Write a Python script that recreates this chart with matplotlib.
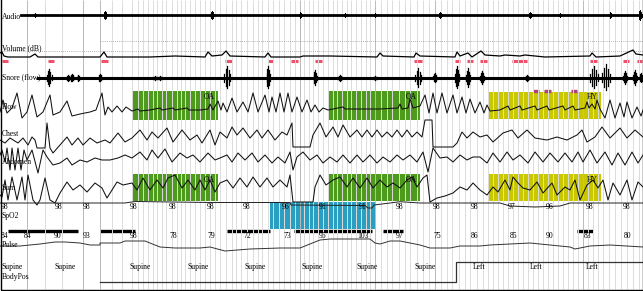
import matplotlib.pyplot as plt
from matplotlib.patches import Rectangle

# ---- recorded channels (x = time index across the page, y = trace level) ----
flow_x = [0, 3, 7, 12, 17, 22, 27, 32, 37, 43, 50, 53, 60, 67, 72, 80, 90, 96, 102, 105, 108, 112, 117, 122, 126, 132,
          138, 140, 150, 160, 162, 173, 175, 187, 189, 200, 208, 210, 213, 218,
          221, 223, 227, 232, 237, 243, 248, 253, 258, 265, 269, 272, 276, 280, 284, 288, 292, 297, 302, 307, 311, 315, 319, 323, 328,
          343, 345, 360, 380, 398, 400, 402, 408, 410, 413, 420,
          425, 429, 433, 437, 442, 447, 453, 457, 462, 466, 470, 475, 480, 484, 487, 490,
          500, 508, 510, 520, 522, 535, 537, 547, 549, 563, 565, 573, 575, 585, 587, 589, 592, 595, 597, 600,
          605, 610, 615, 620, 624, 627, 632, 637, 641, 643]
flow_y = [112, 100, 113, 108, 93, 118, 112, 95, 117, 112, 95, 115, 112, 101, 116, 114, 112, 110, 93, 115, 107, 112, 106, 112, 107, 111,
          109, 111, 110, 108, 110, 108, 110, 108, 110, 110, 109, 104, 110, 101,
          110, 103, 112, 98, 112, 102, 112, 93, 112, 95, 112, 97, 112, 93, 112, 93, 112, 97, 112, 100, 112, 105, 112, 108, 110,
          107, 109, 109, 109, 108, 104, 109, 108, 99, 108, 106,
          95, 113, 93, 113, 93, 113, 95, 113, 97, 113, 99, 113, 102, 113, 105, 111,
          110, 106, 110, 106, 110, 106, 110, 106, 110, 106, 110, 106, 110, 108, 102, 108, 104, 109, 100, 109,
          118, 100, 118, 103, 117, 102, 118, 107, 116, 110]

chest_x = [0, 5, 10, 18, 23, 28, 32, 35, 37, 45, 47, 50, 53, 60, 67, 72, 78, 83, 90, 97, 105, 110, 118, 125, 132, 140, 147,
           152, 158, 167, 173, 182, 190, 197, 202, 210, 215, 220, 227, 232, 237, 243, 250, 257, 262, 268, 275, 282, 287,
           292, 293, 310, 313, 320, 326, 333, 338, 343, 350, 357, 362, 367, 372, 377, 382, 387, 392, 397, 402, 407, 412,
           417, 422, 425, 432, 433, 453, 457, 462, 467, 473, 480, 487, 493, 503, 512, 518, 527, 535, 547, 557, 567, 577,
           582, 587, 595, 602, 610, 620, 627, 635, 643]
chest_y = [140, 143, 138, 143, 138, 145, 137, 140, 148, 148, 123, 148, 153, 145, 137, 145, 138, 145, 138, 143, 140, 143, 133,
           142, 138, 130, 140, 132, 138, 128, 142, 130, 140, 135, 143, 130, 145, 132, 138, 127, 135, 128, 138, 130, 138,
           130, 140, 132, 135, 123, 147, 147, 135, 123, 137, 127, 137, 125, 137, 130, 137, 130, 137, 130, 137, 132, 137,
           130, 137, 130, 137, 132, 137, 120, 120, 147, 147, 143, 132, 138, 132, 137, 135, 142, 133, 130, 138, 130, 138,
           140, 137, 140, 135, 130, 142, 137, 127, 138, 128, 138, 130, 137]

abdomen_x = [0, 2, 5, 7, 10, 12, 15, 18, 21, 24, 27, 32, 38, 43, 47, 53, 60, 67, 72, 80, 87, 95, 102, 110, 118, 125, 132,
             140, 147, 152, 158, 165, 172, 180, 187, 193, 200, 208, 215, 220, 227, 232, 238, 245, 252, 258, 265, 272, 278,
             285, 290, 293, 297, 303, 310, 317, 323, 330, 337, 343, 350, 357, 363, 370, 377, 383, 390, 397, 403, 410, 417,
             423, 428, 433, 440, 447, 453, 460, 467, 473, 480, 487, 493, 500, 507, 513, 520, 528, 535, 543, 550, 558, 565,
             572, 578, 583, 590, 597, 605, 612, 618, 625, 632, 638, 643]
abdomen_y = [155, 150, 162, 148, 170, 148, 170, 148, 170, 150, 160, 150, 173, 150, 157, 165, 163, 158, 165, 160, 162, 158,
             160, 160, 158, 155, 158, 152, 160, 150, 158, 149, 162, 153, 158, 155, 162, 153, 160, 158, 155, 162, 153, 160,
             153, 162, 155, 163, 157, 163, 152, 170, 157, 152, 160, 155, 163, 157, 162, 155, 163, 155, 162, 155, 163, 157,
             162, 155, 160, 155, 162, 152, 172, 148, 158, 157, 162, 155, 160, 157, 157, 163, 153, 162, 152, 160, 155, 163,
             152, 162, 153, 162, 153, 162, 152, 162, 150, 163, 152, 165, 153, 165, 152, 163, 155]

sum_x = [0, 2, 5, 8, 12, 17, 22, 25, 28, 33, 37, 40, 45, 50, 55, 60, 67, 73, 80, 87, 95, 102, 107, 112, 117, 123, 132, 137,
         143, 150, 157, 163, 168, 175, 182, 188, 195, 200, 205, 210, 215, 220, 227, 233, 240, 247, 253, 260, 267, 273, 280,
         287, 290, 293, 313, 315, 320, 326, 333, 340, 347, 353, 360, 367, 373, 380, 387, 393, 400, 407, 412, 417, 423, 427,
         430, 437, 445, 453, 460, 467, 473, 480, 487, 493, 498, 505, 510, 513, 518, 523, 530, 537, 543, 552, 557, 565, 570,
         575, 580, 587, 593, 598, 603, 608, 613, 620, 627, 632, 638, 643]
sum_y = [195, 197, 180, 200, 177, 200, 177, 200, 175, 200, 205, 200, 178, 200, 203, 193, 182, 190, 185, 192, 183, 188, 198,
         190, 182, 185, 183, 190, 178, 190, 180, 188, 178, 175, 188, 180, 190, 180, 190, 180, 192, 183, 180, 188, 178, 187,
         177, 187, 178, 187, 180, 187, 175, 202, 202, 187, 175, 185, 180, 177, 187, 178, 188, 178, 188, 180, 187, 183, 188,
         180, 177, 187, 178, 175, 202, 198, 196, 193, 187, 190, 183, 190, 195, 187, 192, 180, 190, 177, 183, 188, 190, 182,
         193, 183, 195, 187, 190, 180, 200, 185, 180, 188, 180, 200, 183, 195, 180, 200, 182, 187]

volume_x = [0, 2, 4, 8, 30, 35, 38, 60, 100, 104, 107, 150, 175, 205, 208, 212, 222, 226, 230, 265, 268, 271, 300, 303,
            330, 377, 380, 383, 414, 416, 420, 455, 457, 460, 468, 472, 481, 485, 500, 505, 520, 525, 545, 590, 592, 596,
            620, 633, 636, 643]
volume_y = [53, 52, 56, 57, 57, 54, 57, 57, 57, 52, 57, 57, 56, 57, 52, 56, 55, 51, 56, 57, 53, 57, 57, 56, 56, 57, 53, 56,
            57, 53, 56, 57, 52, 56, 53, 57, 51, 55, 56, 55, 56, 55, 57, 56, 53, 57, 56, 50, 54, 55]

spo2_x = [0, 125, 135, 210, 290, 291, 365, 368, 372, 374, 390, 400, 420, 500, 510, 535, 560, 570, 643]
spo2_y = [203, 203, 201.5, 202.5, 202.5, 205, 205.5, 208, 208, 205, 203, 201.7, 203, 203, 206, 207, 206, 203, 203]

pulse_x = [0, 20, 40, 55, 65, 80, 90, 100, 100, 120, 125, 145, 160, 175, 200, 210, 225, 250, 280, 300, 310, 320, 330, 370,
           375, 380, 390, 400, 420, 430, 450, 460, 480, 490, 530, 540, 570, 575, 590, 610, 643]
pulse_y = [246, 246, 244, 242, 242, 243, 245, 245, 243, 243, 241, 241, 247, 248, 248, 247, 251, 249, 248, 248, 244, 240,
           239, 239, 243, 244, 241, 241, 245, 248, 248, 246, 246, 245, 243, 244, 247, 249, 246, 245, 247]

# audio / snore bursts: (position, half amplitude, half width)
audio_spikes = [(35, 2, 1), (105, 4, 1.5), (212, 4, 2), (300, 3, 1), (345, 2, 1), (375, 2, 1), (440, 3, 1.5),
                (530, 3, 1.5), (560, 2, 1), (610, 3, 1), (640, 5, 1.5)]
snore_bursts = [(49, 9, 2.5), (68, 3, 1.5), (72, 4, 1.5), (78, 3, 1), (100, 4, 1.5), (155, 2, 2), (160, 2, 2),
                (227, 12, 3), (268, 12, 1.5), (315, 8, 1.5), (340, 3, 2), (375, 2, 2), (418, 10, 3), (435, 5, 2),
                (457, 12, 2), (468, 10, 2), (482, 7, 2), (527, 3, 2), (594, 12, 4), (606, 14, 4), (625, 7, 2),
                (635, 8, 2), (641, 5, 1.5)]
burst_shape = [(-1.0, 0.35), (-0.5, 0.75), (0.0, 1.0), (0.5, 0.65), (1.0, 0.3)]

# scored events
oa_events = [(132, 218), (328, 420)]
hy_events = [(488, 601)]
desat_event = (270, 375)
desat_bars = [(8, 78), (100, 135), (227, 270), (294, 372), (383, 403), (577, 593)]
arousal_marks = [(2, 8), (48, 54), (101, 108), (225, 232), (268, 273), (291, 298), (315, 322), (414, 422), (455, 460),
                 (467, 473), (480, 487), (512, 527), (590, 597), (623, 629), (637, 642)]
limb_marks = [(533, 539), (544, 551), (571, 577)]

spo2_pos = [5, 59, 87, 134, 173, 211, 247, 286, 323, 363, 400, 437, 475, 512, 550, 590, 627]
spo2_lab = ['98', '98', '98', '98', '98', '98', '98', '96', '91', '91', '98', '98', '98', '97', '96', '98', '98']
pulse_pos = [1, 28, 58, 87, 134, 173, 211, 247, 287, 323, 363, 400, 437, 475, 513, 550, 588, 627]
pulse_lab = ['84', '84', '90', '93', '98', '78', '79', '72', '73', '95', '103', '97', '75', '86', '85', '90', '83', '80']
pos_centers = [12, 65, 140, 198, 255, 312, 367, 425, 479, 536, 592]
pos_labels = ['Supine'] * 8 + ['Left'] * 3
bodypos_x = [100, 456, 456, 643]
bodypos_y = [282, 282, 262, 262]

epoch_lines = [45, 62, 112, 122, 132, 138, 143, 148, 153, 157, 162, 166, 172, 177, 181, 185, 190, 195, 200, 205, 210, 215,
               220, 226, 232, 236, 241, 247, 253, 258, 262, 268, 273, 279, 284, 290, 295, 304, 309, 313, 318, 323, 328,
               333, 337, 342, 347, 351, 356, 361, 366, 370, 381, 387, 392, 399, 405, 410, 417, 423, 429, 441, 447, 452,
               459, 465, 470, 477, 483, 488, 493, 498, 503, 508, 513, 518, 523, 528, 533, 538, 543, 548, 553, 558, 563,
               568, 573, 578, 588, 593, 598, 603, 609, 615, 621, 627, 633, 639]
major_lines = [27, 83, 100, 300, 375, 435, 583]

plt.rcParams['font.family'] = ['Liberation Serif', 'DejaVu Serif']
fs = 5.5

fig = plt.figure(figsize=(6.43, 2.91), dpi=100, facecolor='w')
ax = fig.add_axes([0, 0, 1, 1])
ax.set_xlim(0, 643)
ax.set_ylim(291, 0)
ax.axis('off')

# event boxes
for a, b in oa_events:
    for top, bot in [(91, 120), (174, 201)]:
        ax.add_patch(Rectangle((a, top), b - a, bot - top, color='#4e9a1c', lw=0, zorder=1))
for a, b in hy_events:
    for top, bot in [(92, 119), (174, 201)]:
        ax.add_patch(Rectangle((a, top), b - a, bot - top, color='#c9c800', lw=0, zorder=1))
ax.add_patch(Rectangle((desat_event[0], 202), desat_event[1] - desat_event[0], 27, color='#2a9fc2', lw=0, zorder=1))

for a, b in desat_bars:
    ax.plot([a, b], [231, 231], color='k', lw=2.4, solid_capstyle='butt', zorder=1.5)
for a, b in arousal_marks:
    ax.plot([a, b], [61, 61], color='#f0506a', lw=2.2, solid_capstyle='butt', zorder=1.5)
for a, b in limb_marks:
    ax.plot([a, b], [91, 91], color='#b0407a', lw=2.4, solid_capstyle='butt', zorder=1.5)

# grid of epoch lines over the boxes
ax.vlines(epoch_lines, 0, 289, color='#dcdcdc', lw=0.7, zorder=2)
ax.vlines(major_lines, 0, 289, color='#bababa', lw=0.7, zorder=2)
ax.plot([100, 643], [41, 41], color='#999999', lw=0.6, ls=(0, (1, 1.5)), zorder=2)
ax.plot([0, 643], [51, 51], color='#999999', lw=0.6, ls=(0, (1, 1.5)), zorder=2)

# traces
ax.plot([21, 643], [15, 15], color='k', lw=2.0, zorder=3)
for x, h, w in audio_spikes:
    for dx, f in burst_shape:
        ax.plot([x + dx * w] * 2, [15 - h * f, 15 + h * f], color='k', lw=0.7, zorder=3)
ax.plot(volume_x, volume_y, color='k', lw=0.9, zorder=3)
ax.plot([38, 643], [78, 78], color='k', lw=2.2, zorder=3)
for x, h, w in snore_bursts:
    for dx, f in burst_shape:
        ax.plot([x + dx * w] * 2, [78 - h * f, 78 + h * f * 0.85], color='k', lw=0.9, zorder=3)
for xs, ys in [(flow_x, flow_y), (chest_x, chest_y), (abdomen_x, abdomen_y), (sum_x, sum_y)]:
    ax.plot(xs, ys, color='#111111', lw=0.75, solid_joinstyle='round', zorder=3)
ax.plot(spo2_x, spo2_y, color='#222222', lw=0.7, zorder=3)
ax.plot(pulse_x, pulse_y, color='#333333', lw=0.7, zorder=3)
ax.plot(bodypos_x, bodypos_y, color='#333333', lw=0.9, zorder=3)

# channel names
for name, y in [('Audio', 17), ('Volume (dB)', 48), ('Snore (flow)', 77), ('Flow', 107), ('Chest', 134),
                ('Abdomen', 162), ('Sum', 188), ('SpO2', 216), ('Pulse', 245), ('BodyPos', 277)]:
    ax.text(2, y, name, fontsize=fs, va='center', ha='left', zorder=4)

for a, b in oa_events:
    ax.text(b - 3, 97, 'OA', fontsize=fs, ha='right', va='center', zorder=4)
    ax.text(b - 3, 180, 'OA', fontsize=fs, ha='right', va='center', zorder=4)
for a, b in hy_events:
    ax.text(b - 3, 97, 'HY', fontsize=fs, ha='right', va='center', zorder=4)
    ax.text(b - 3, 180, 'HY', fontsize=fs, ha='right', va='center', zorder=4)

for x, s in zip(spo2_pos, spo2_lab):
    ax.text(x, 207, s, fontsize=fs, ha='center', va='center', zorder=4)
for x, s in zip(pulse_pos, pulse_lab):
    ax.text(x, 236, s, fontsize=fs, ha='left' if x < 5 else 'center', va='center', zorder=4)
for x, s in zip(pos_centers, pos_labels):
    ax.text(x, 267, s, fontsize=fs, ha='center', va='center', zorder=4)

# frame
ax.plot([0.5, 0.5, 642.5, 642.5], [0, 289.5, 289.5, 0], color='k', lw=1.0, zorder=5)

fig.savefig('out.png', dpi=100, facecolor='w')
